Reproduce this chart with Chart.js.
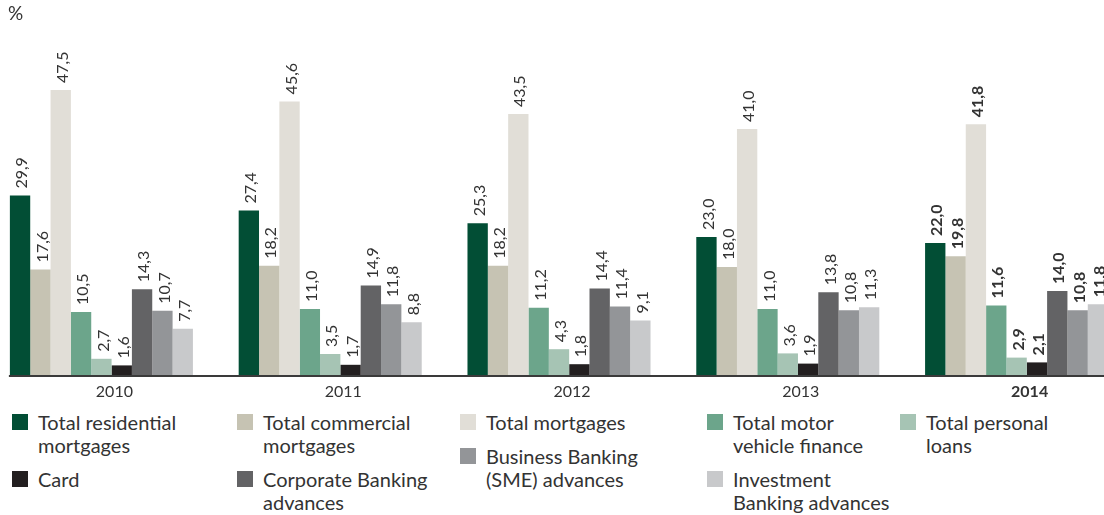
<!DOCTYPE html>
<html>
<head>
<meta charset="utf-8">
<title>Loan portfolio mix</title>
<script src="https://cdn.jsdelivr.net/npm/chart.js@4"></script>
<style>
  html, body { margin: 0; padding: 0; background: #fff; overflow: hidden; }
  body { width: 1104px; height: 515px; position: relative; font-family: Lato, sans-serif; color: #333; }
  #chartBox { position: absolute; left: -13px; top: 0; width: 1144px; height: 400px; }
  #legend { position: absolute; left: 0; top: 411px; width: 1104px; height: 104px; }
  .col { position: absolute; top: 0; }
  .item { position: relative; padding-left: 26px; font-size: 20px; line-height: 23px; white-space: pre-line; margin-bottom: 11px; }
  .swatch { position: absolute; left: 0; top: 3px; width: 16px; height: 16px; }
</style>
</head>
<body>
<div id="chartBox"><canvas id="mixChart"></canvas></div>
<div id="legend"></div>
<script>
const years = ["2010", "2011", "2012", "2013", "2014"];
const highlightYear = "2014";

const residential = [29.9, 27.4, 25.3, 23.0, 22.0];
const commercial  = [17.6, 18.2, 18.2, 18.0, 19.8];
const mortgages   = [47.5, 45.6, 43.5, 41.0, 41.8];
const motor       = [10.5, 11.0, 11.2, 11.0, 11.6];
const personal    = [2.7, 3.5, 4.3, 3.6, 2.9];
const card        = [1.6, 1.7, 1.8, 1.9, 2.1];
const corporate   = [14.3, 14.9, 14.4, 13.8, 14.0];
const business    = [10.7, 11.8, 11.4, 10.8, 10.8];
const investment  = [7.7, 8.8, 9.1, 11.3, 11.8];

const seriesNames = [
  "Total residential\nmortgages",
  "Total commercial\nmortgages",
  "Total mortgages",
  "Total motor\nvehicle finance",
  "Total personal\nloans",
  "Card",
  "Corporate Banking\nadvances",
  "Business Banking\n(SME) advances",
  "Investment\nBanking advances"
];
const seriesValues = [residential, commercial, mortgages, motor, personal, card, corporate, business, investment];
const seriesColors = ["#024e35", "#c6c3b3", "#e1ded7", "#6ca58b", "#a6c4b4", "#231f20", "#636365", "#939598", "#c8c9cb"];

// left edge of each legend column
const legendCols = [12, 237, 460, 707, 900];

const textColor = "#333";

// value written vertically above each bar
const barLabels = {
  id: "barLabels",
  afterDatasetsDraw(chart) {
    const ctx = chart.ctx;
    ctx.save();
    ctx.fillStyle = textColor;
    ctx.textAlign = "left";
    ctx.textBaseline = "middle";
    chart.data.datasets.forEach((ds, i) => {
      chart.getDatasetMeta(i).data.forEach((bar, j) => {
        const v = ds.data[j];
        ctx.font = (years[j] === highlightYear ? "bold " : "") + "16px Lato";
        ctx.save();
        ctx.translate(bar.x + 2, bar.y - 7);
        ctx.rotate(-Math.PI / 2);
        ctx.fillText(v.toFixed(1).replace(".", ","), 0, 0);
        ctx.restore();
      });
    });
    ctx.restore();
  }
};

// axis line starting at the first bar, plus the unit mark
const baseline = {
  id: "baseline",
  afterDatasetsDraw(chart) {
    const ctx = chart.ctx;
    const first = chart.getDatasetMeta(0).data[0];
    const y = chart.scales.y.getPixelForValue(0);
    ctx.save();
    ctx.strokeStyle = "#3a3a3a";
    ctx.lineWidth = 2;
    ctx.beginPath();
    ctx.moveTo(first.x - first.width / 2 - 1, y + 1);
    ctx.lineTo(chart.chartArea.right, y + 1);
    ctx.stroke();
    ctx.fillStyle = textColor;
    ctx.font = "19px Lato";
    ctx.textAlign = "left";
    ctx.textBaseline = "middle";
    ctx.fillText("%", 21, 14);
    ctx.restore();
  }
};

const chart = new Chart(document.getElementById("mixChart"), {
  type: "bar",
  data: {
    labels: years,
    datasets: seriesNames.map((name, i) => ({
      label: name,
      data: seriesValues[i],
      backgroundColor: seriesColors[i],
      borderWidth: 0
    }))
  },
  options: {
    responsive: true,
    maintainAspectRatio: false,
    animation: false,
    layout: { padding: { top: 15, left: 0, right: 0, bottom: 0 } },
    datasets: { bar: { categoryPercentage: 0.8, barPercentage: 1 } },
    plugins: {
      legend: { display: false },
      tooltip: { enabled: false }
    },
    scales: {
      x: {
        grid: { display: false, drawTicks: false },
        border: { display: false },
        ticks: {
          color: textColor,
          padding: 7,
          labelOffset: 13,
          font: c => ({ family: "Lato", size: 16, weight: years[c.index] === highlightYear ? "bold" : "normal" })
        },
        afterFit: s => { s.height = 25; }
      },
      y: { display: false, min: 0, max: 60 }
    }
  },
  plugins: [barLabels, baseline]
});

// legend laid out in five columns, items stacked inside each column
const legend = document.getElementById("legend");
legendCols.forEach((x, c) => {
  const col = document.createElement("div");
  col.className = "col";
  col.style.left = x + "px";
  chart.data.datasets.forEach((ds, i) => {
    if (i % legendCols.length !== c) return;
    const item = document.createElement("div");
    item.className = "item";
    item.innerHTML = `<span class="swatch" style="background:${ds.backgroundColor}"></span>`;
    item.appendChild(document.createTextNode(ds.label));
    col.appendChild(item);
  });
  legend.appendChild(col);
});
</script>
</body>
</html>
